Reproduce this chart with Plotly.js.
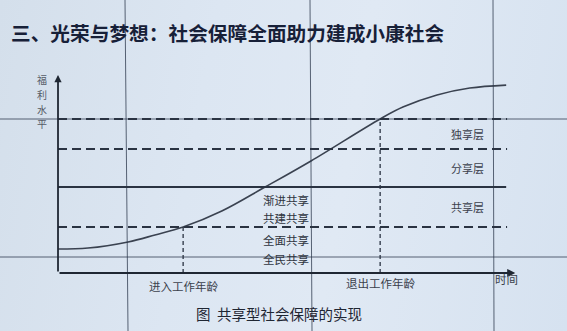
<!DOCTYPE html>
<html>
<head>
<meta charset="utf-8">
<script src="https://cdn.plot.ly/plotly-3.0.1.min.js"></script>
<style>
  html, body { margin: 0; padding: 0; }
  body {
    width: 567px; height: 331px; overflow: hidden;
    background: linear-gradient(100deg, #d4dfeb 0%, #dce6f2 35%, #e0e9f4 60%, #d6e2f0 100%);
  }
  #chart { width: 567px; height: 331px; }
</style>
</head>
<body>
<div id="chart"></div>
<script>
// Welfare level over a lifetime (conceptual units 0–100 on both axes)
const timePoints    = [0, 6.6, 15.4, 21.3, 27.5, 36.0, 45.5, 55.6, 70.8, 75.8, 83.3, 90.5, 98.5];
const welfareLevels = [12.1, 12.6, 15.7, 19.2, 23.2, 31.3, 43.4, 56.6, 77.8, 83.8, 89.9, 93.4, 94.9];

// Boundaries between the sharing tiers, bottom to top
const tierBounds  = [23.2, 43.4, 62.6, 77.8];
const tierStyles  = ['dash', 'solid', 'dash', 'dash'];
const tierNames   = ['共享层', '分享层', '独享层'];

// Working-age markers on the time axis
const ageMarks    = [27.5, 70.8];
const ageLabels   = ['进入工作年龄', '退出工作年龄'];

// Sharing modes listed beside the curve
const shareModes  = ['渐进共享', '共建共享', '全面共享', '全民共享'];
const shareLevels = [36.9, 27.8, 16.7, 7.1];

const titleText   = '三、光荣与梦想：社会保障全面助力建成小康社会';
const captionText = '图  共享型社会保障的实现';
const yName       = ['福', '利', '水', '平'];
const xName       = '时间';

const FONT = '"Noto Sans CJK SC", "Noto Sans", sans-serif';
const INK = '#2a3342';
const TEXT = '#3b414c';

// The plot area spans the whole figure; ranges place the axes origin inside it
const xRange = [-12.75, 111.87];
const yRange = [-29.29, 137.88];
const xEnd = 98.7;

const shapes = [];

// Faint ruling lines on the board behind the chart (paper coordinates)
const ruleColor = 'rgba(40,52,72,0.75)';
[[125, 128], [310, 312], [493, 494]].forEach(([top, bot]) => {
  shapes.push({type: 'line', xref: 'paper', yref: 'paper',
    x0: top / 567, x1: bot / 567, y0: 1, y1: 0, line: {color: ruleColor, width: 1}});
});
[119, 257].forEach(py => {
  shapes.push({type: 'line', xref: 'paper', yref: 'paper',
    x0: 0, x1: 1, y0: 1 - py / 331, y1: 1 - py / 331, line: {color: ruleColor, width: 1}});
});

// Tier boundaries
tierBounds.forEach((v, i) => {
  const solid = tierStyles[i] === 'solid';
  shapes.push({type: 'line', xref: 'x', yref: 'y',
    x0: 0, x1: solid ? 98.5 : xEnd, y0: v, y1: v,
    line: {color: INK, width: 2, dash: solid ? 'solid' : '9px,5px'}});
});

// Entry / exit working age drop lines
shapes.push({type: 'line', xref: 'x', yref: 'y', x0: ageMarks[0], x1: ageMarks[0],
  y0: 0, y1: tierBounds[0], line: {color: INK, width: 1.3, dash: '4px,3px'}});
shapes.push({type: 'line', xref: 'x', yref: 'y', x0: ageMarks[1], x1: ageMarks[1],
  y0: 0, y1: tierBounds[3], line: {color: INK, width: 1.3, dash: '4px,3px'}});

const annotations = [];

// Axes with arrow heads
annotations.push({x: 100.5, y: 0, ax: 0, ay: 0, axref: 'x', ayref: 'y', xref: 'x', yref: 'y',
  text: '', showarrow: true, arrowhead: 2, arrowsize: 0.9, arrowwidth: 1.8, arrowcolor: '#1f2733', standoff: 0});
annotations.push({x: 0, y: 100, ax: 0, ay: 0, axref: 'x', ayref: 'y', xref: 'x', yref: 'y',
  text: '', showarrow: true, arrowhead: 2, arrowsize: 0.8, arrowwidth: 1.8, arrowcolor: '#1f2733', standoff: 0});

// Title and caption
annotations.push({xref: 'paper', yref: 'paper', x: 9 / 567, y: 1 - 33 / 331, xanchor: 'left', yanchor: 'middle',
  text: '<b>' + titleText + '</b>', showarrow: false,
  font: {family: FONT, size: 19.7, color: '#172038'}});
annotations.push({xref: 'paper', yref: 'paper', x: 279 / 567, y: 1 - 313 / 331, xanchor: 'center', yanchor: 'middle',
  text: captionText, showarrow: false, font: {family: FONT, size: 14.5, color: '#1f2633'}});

// Vertical axis name, stacked one character per row
yName.forEach((ch, i) => {
  annotations.push({xref: 'x', yref: 'y', x: -3.6, y: 97.5 - i * 7.4, text: ch, showarrow: false,
    xanchor: 'center', yanchor: 'middle', font: {family: FONT, size: 10, color: '#555b66'}});
});

// Horizontal axis name
annotations.push({xref: 'x', yref: 'y', x: 98.6, y: -3.1, text: xName, showarrow: false,
  xanchor: 'center', yanchor: 'middle', font: {family: FONT, size: 11.5, color: TEXT}});

// Working-age labels
annotations.push({xref: 'x', yref: 'y', x: ageMarks[0], y: -6.6, text: ageLabels[0], showarrow: false,
  xanchor: 'center', yanchor: 'middle', font: {family: FONT, size: 11.5, color: TEXT}});
annotations.push({xref: 'x', yref: 'y', x: ageMarks[1], y: -5.0, text: ageLabels[1], showarrow: false,
  xanchor: 'center', yanchor: 'middle', font: {family: FONT, size: 11.5, color: TEXT}});

// Tier names, centred between their boundaries
tierNames.forEach((name, i) => {
  annotations.push({xref: 'x', yref: 'y', x: 89.9, y: (tierBounds[i] + tierBounds[i + 1]) / 2,
    text: name, showarrow: false, xanchor: 'center', yanchor: 'middle',
    font: {family: FONT, size: 11, color: TEXT}});
});

// Sharing modes
shareModes.forEach((name, i) => {
  annotations.push({xref: 'x', yref: 'y', x: 50.1, y: shareLevels[i], text: name, showarrow: false,
    xanchor: 'center', yanchor: 'middle', font: {family: FONT, size: 11.5, color: '#2f3540'}});
});

const curve = {
  x: timePoints, y: welfareLevels, type: 'scatter', mode: 'lines',
  line: {color: '#3a4250', width: 1.6, shape: 'spline', smoothing: 1},
  hoverinfo: 'skip'
};

const layout = {
  width: 567, height: 331,
  margin: {l: 0, r: 0, t: 0, b: 0},
  paper_bgcolor: 'rgba(0,0,0,0)', plot_bgcolor: 'rgba(0,0,0,0)',
  showlegend: false,
  xaxis: {range: xRange, visible: false, fixedrange: true},
  yaxis: {range: yRange, visible: false, fixedrange: true},
  shapes: shapes, annotations: annotations
};

Plotly.newPlot('chart', [curve], layout, {staticPlot: true, displayModeBar: false});
</script>
</body>
</html>
